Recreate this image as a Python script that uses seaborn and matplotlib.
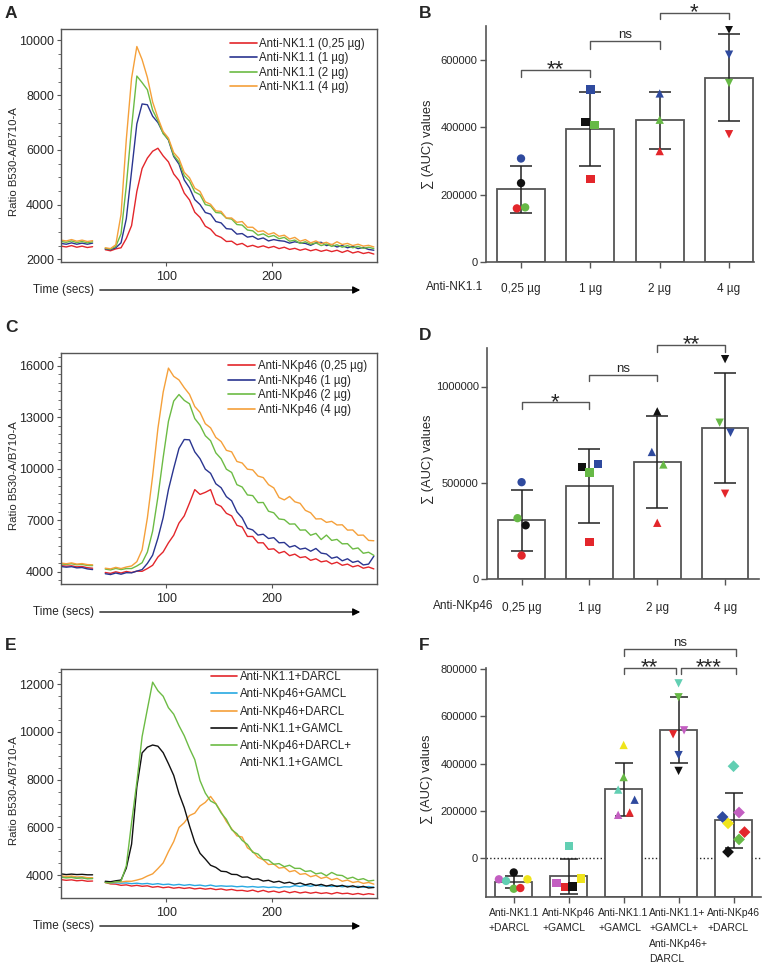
import matplotlib.pyplot as plt
import matplotlib.ticker as mticker
from matplotlib.lines import Line2D
from matplotlib.patches import FancyArrowPatch
import numpy as np
import seaborn as sns

sns.set_style('ticks')
plt.rcParams['font.family'] = ['Liberation Sans', 'DejaVu Sans']

# ---------------- calcium flux traces ----------------
t_base = [0, 5, 10, 15, 20, 25, 30]
t_main = list(range(42, 298, 5))

# A: anti-NK1.1 doses
a_labels = ['Anti-NK1.1 (0,25 µg)', 'Anti-NK1.1 (1 µg)', 'Anti-NK1.1 (2 µg)', 'Anti-NK1.1 (4 µg)']
a_base = [
    [2480, 2450, 2500, 2440, 2480, 2430, 2460],
    [2580, 2550, 2600, 2550, 2590, 2550, 2590],
    [2650, 2620, 2670, 2610, 2650, 2600, 2640],
    [2700, 2670, 2720, 2660, 2700, 2650, 2680],
]
a_red = [2350, 2310, 2380, 2420, 2760, 3230, 4480, 5320, 5700, 5950,
         6060, 5780, 5560, 5120, 4880, 4420, 4170, 3720, 3530, 3210,
         3100, 2880, 2800, 2650, 2660, 2530, 2580, 2460, 2510, 2440,
         2490, 2420, 2470, 2390, 2440, 2360, 2400, 2330, 2380, 2310,
         2360, 2290, 2340, 2280, 2330, 2250, 2320, 2230, 2280, 2210,
         2250, 2190]
a_blue = [2380, 2350, 2420, 2600, 3480, 5220, 6950, 7680, 7650, 7230,
          7000, 6620, 6360, 5760, 5480, 4900, 4610, 4180, 4000, 3710,
          3650, 3380, 3330, 3120, 3100, 2920, 2940, 2810, 2840, 2730,
          2780, 2670, 2720, 2680, 2660, 2590, 2640, 2600, 2580, 2510,
          2600, 2620, 2500, 2540, 2450, 2500, 2420, 2470, 2390, 2430,
          2360, 2330]
a_green = [2400, 2370, 2470, 2930, 4680, 6820, 8700, 8460, 8200, 7450,
           7070, 6590, 6380, 5800, 5560, 5060, 4860, 4460, 4360, 4000,
           3950, 3710, 3690, 3500, 3470, 3270, 3250, 3070, 3040, 2880,
           2930, 2820, 2870, 2750, 2800, 2660, 2700, 2580, 2640, 2550,
           2600, 2500, 2560, 2470, 2530, 2440, 2500, 2420, 2470, 2400,
           2440, 2390]
a_orange = [2420, 2390, 2530, 3640, 6380, 8620, 9780, 9300, 8650, 7750,
            7170, 6670, 6430, 5900, 5680, 5180, 4980, 4600, 4480, 4100,
            4010, 3770, 3750, 3510, 3510, 3350, 3380, 3170, 3170, 3010,
            3040, 2910, 2970, 2840, 2880, 2740, 2800, 2660, 2720, 2600,
            2670, 2570, 2620, 2530, 2640, 2540, 2580, 2500, 2550, 2480,
            2510, 2450]

# C: anti-NKp46 doses
c_labels = ['Anti-NKp46 (0,25 µg)', 'Anti-NKp46 (1 µg)', 'Anti-NKp46 (2 µg)', 'Anti-NKp46 (4 µg)']
c_base = [
    [4350, 4320, 4340, 4280, 4300, 4230, 4200],
    [4300, 4260, 4290, 4220, 4240, 4160, 4120],
    [4450, 4420, 4460, 4400, 4420, 4360, 4350],
    [4500, 4460, 4510, 4440, 4470, 4410, 4400],
]
c_red = [3950, 3900, 3990, 3920, 4010, 3950, 4030, 4020, 4180, 4370,
         4850, 5150, 5680, 6120, 6830, 7250, 8000, 8780, 8500, 8620,
         8780, 7950, 7800, 7400, 7250, 6700, 6600, 6050, 6050, 5680,
         5680, 5300, 5330, 5080, 5180, 4930, 5020, 4820, 4870, 4660,
         4750, 4570, 4630, 4450, 4550, 4370, 4440, 4280, 4360, 4200,
         4270, 4160]
c_blue = [3880, 3830, 3920, 3850, 3940, 3930, 4030, 4120, 4480, 4960,
          5950, 7150, 8780, 10020, 11180, 11700, 11680, 10980, 10580, 9970,
          9730, 9120, 8890, 8370, 8130, 7480, 7130, 6530, 6430, 6130,
          6180, 5930, 5980, 5680, 5700, 5430, 5520, 5310, 5370, 5190,
          5350, 5080, 5030, 4780, 4860, 4630, 4750, 4540, 4620, 4390,
          4440, 4900]
c_green = [4150, 4100, 4190, 4120, 4180, 4180, 4330, 4520, 5140, 6360,
           8350, 10650, 12760, 13940, 14320, 13980, 13780, 12920, 12530, 11920,
           11630, 10920, 10580, 9970, 9780, 9070, 8930, 8470, 8430, 8020,
           8030, 7520, 7430, 7070, 7030, 6770, 6780, 6420, 6430, 6120,
           6230, 5870, 6130, 5820, 5880, 5620, 5630, 5320, 5380, 5070,
           5130, 4950]
c_orange = [4200, 4160, 4250, 4180, 4270, 4330, 4580, 5270, 7130, 9570,
            12340, 14460, 15860, 15380, 15170, 14720, 14330, 13620, 13280, 12620,
            12380, 11820, 11580, 11070, 10980, 10420, 10330, 9970, 9930, 9570,
            9480, 9070, 8880, 8320, 8180, 8380, 8070, 7980, 7570, 7430,
            7070, 7080, 6870, 6930, 6720, 6730, 6420, 6430, 6120, 6130,
            5820, 5800]

# E: cross-linking combinations
e_labels = ['Anti-NK1.1+DARCL', 'Anti-NKp46+GAMCL', 'Anti-NKp46+DARCL',
            'Anti-NK1.1+GAMCL', 'Anti-NKp46+DARCL+\nAnti-NK1.1+GAMCL']
e_base = [
    [3820, 3790, 3810, 3770, 3790, 3750, 3760],
    [3950, 3920, 3940, 3900, 3910, 3870, 3880],
    [3980, 3950, 3970, 3930, 3940, 3900, 3900],
    [4060, 4030, 4050, 4030, 4040, 4020, 4020],
    [3920, 3890, 3910, 3870, 3890, 3850, 3860],
]
e_red = [3700, 3640, 3630, 3580, 3600, 3550, 3580, 3540, 3560, 3500,
         3530, 3480, 3510, 3460, 3490, 3450, 3480, 3430, 3460, 3420,
         3450, 3400, 3430, 3380, 3410, 3360, 3370, 3330, 3380, 3310,
         3370, 3300, 3340, 3280, 3340, 3270, 3320, 3260, 3300, 3250,
         3290, 3240, 3270, 3220, 3280, 3230, 3250, 3200, 3240, 3190,
         3230, 3200]
e_cyan = [3720, 3690, 3690, 3670, 3680, 3650, 3670, 3640, 3660, 3620,
          3650, 3610, 3630, 3590, 3620, 3580, 3610, 3570, 3590, 3550,
          3590, 3540, 3560, 3540, 3550, 3520, 3540, 3510, 3530, 3500,
          3520, 3490, 3510, 3480, 3520, 3510, 3570, 3530, 3580, 3540,
          3590, 3550, 3560, 3530, 3560, 3520, 3550, 3510, 3540, 3500,
          3530, 3500]
e_orange = [3700, 3690, 3730, 3720, 3750, 3750, 3800, 3860, 3970, 4060,
            4280, 4520, 4990, 5410, 6000, 6200, 6500, 6600, 6900, 7050,
            7300, 7000, 6650, 6250, 5950, 5650, 5600, 5150, 5000, 4750,
            4650, 4450, 4470, 4300, 4330, 4150, 4200, 4040, 4070, 3940,
            4000, 3870, 3930, 3810, 3870, 3750, 3800, 3700, 3740, 3660,
            3700, 3630]
e_black = [3750, 3730, 3770, 3800, 4300, 5300, 7700, 9120, 9360, 9450,
           9400, 9130, 8670, 8180, 7420, 6830, 6070, 5380, 4920, 4680,
           4420, 4330, 4170, 4150, 4040, 4030, 3920, 3930, 3830, 3850,
           3760, 3790, 3710, 3750, 3670, 3710, 3630, 3680, 3600, 3650,
           3570, 3620, 3550, 3600, 3530, 3580, 3510, 3560, 3490, 3540,
           3470, 3490]
e_green = [3700, 3680, 3730, 3750, 4400, 6200, 7900, 9800, 10950, 12080,
           11720, 11490, 11010, 10740, 10260, 9840, 9310, 8840, 7960, 7440,
           7110, 6990, 6610, 6340, 5910, 5740, 5460, 5290, 4960, 4890,
           4660, 4640, 4460, 4490, 4360, 4420, 4290, 4290, 4160, 4190,
           4060, 4100, 3980, 4120, 4010, 3990, 3860, 3920, 3810, 3860,
           3760, 3790]

# ---------------- AUC bar charts ----------------
b_names = ['0,25 µg', '1 µg', '2 µg', '4 µg']
b_mean = [216000, 395000, 420000, 547000]
b_sd = [70000, 109000, 84000, 130000]
pt_colors = ['blue', 'black', 'green', 'red']
b_points = [[307000, 234000, 162000, 159000],
            [512000, 415000, 406000, 246000],
            [500000, None, 422000, 329000],
            [615000, 689000, 531000, 379000]]

d_names = ['0,25 µg', '1 µg', '2 µg', '4 µg']
d_mean = [305000, 483000, 608000, 786000]
d_sd = [157000, 194000, 240000, 285000]
d_points = [[503000, 279000, 316000, 122000],
            [597000, 582000, 554000, 193000],
            [660000, 871000, 595000, 292000],
            [760000, 1142000, 812000, 443000]]

f_names = ['Anti-NK1.1\n+DARCL', 'Anti-NKp46\n+GAMCL', 'Anti-NK1.1\n+GAMCL',
           'Anti-NK1.1+\n+GAMCL+\nAnti-NKp46+\nDARCL', 'Anti-NKp46\n+DARCL']
f_mean = [-100000, -77000, 291000, 544000, 160000]
f_sd = [25000, 74000, 112000, 140000, 116000]
f_colors = ['magenta', 'teal', 'green', 'yellow', 'blue', 'red', 'black']
f_points = [[-90000, -97000, -130000, -90000, None, -127000, -61000],
            [-106000, 50000, None, -86000, None, -124000, -121000],
            [183000, 290000, 343000, 479000, 247000, 193000, None],
            [541000, 740000, 681000, None, 436000, 524000, 369000],
            [193000, 389000, 79000, 147000, 174000, 110000, 26000]]

# ---------------- styling ----------------
PAL = {'red': '#e3262b', 'blue': '#2f4a9e', 'green': '#67b946', 'black': '#111111',
       'magenta': '#c35ec1', 'teal': '#62cfb3', 'yellow': '#efe41c'}
LINE = {'red': '#e3262b', 'navy': '#2a3590', 'green': '#6cbb44', 'orange': '#f5a03a',
        'cyan': '#28a9e2', 'black': '#111111'}
FRAME = '#555555'

W, H = 768, 967
fig = plt.figure(figsize=(W / 100, H / 100), dpi=100)


def box(l, t, r, b):
    return [l / W, 1 - b / H, (r - l) / W, (b - t) / H]


def fx(x):
    return x / W


def fy(y):
    return 1 - y / H


def trace_panel(rect, bases, mains, colors, labels, ylim, yticks, leg_at, leg_sp, ylab_y, arrow_y):
    ax = fig.add_axes(box(*rect))
    for b, m, c in zip(bases, mains, colors):
        sns.lineplot(x=t_base, y=b, color=LINE[c], lw=1, estimator=None, ax=ax)
        sns.lineplot(x=t_main, y=m, color=LINE[c], lw=1, estimator=None, ax=ax)
    ax.set_xlim(0, 300)
    ax.set_ylim(*ylim)
    ax.set_xticks([100, 200])
    ax.set_yticks(yticks)
    ax.yaxis.set_minor_locator(mticker.MultipleLocator(500))
    ax.tick_params(labelsize=9, length=3, width=0.8, color=FRAME, pad=2)
    ax.tick_params(axis='x', pad=3.5)
    ax.tick_params(axis='y', which='minor', length=2, width=0.6, color=FRAME)
    for s in ax.spines.values():
        s.set_color(FRAME)
        s.set_linewidth(1)
    ax.set_xlabel('')
    ax.set_ylabel('Ratio B530-A/B710-A', fontsize=8.2)
    ax.yaxis.set_label_coords(-0.133, ylab_y)
    # legend: a wrapped label keeps its line handle on the first row
    handles, texts = [], []
    for c, lab in zip(colors, labels):
        for k, part in enumerate(lab.split('\n')):
            handles.append(Line2D([], [], color=LINE[c] if k == 0 else 'none', lw=1.2))
            texts.append(part)
    ax.legend(handles, texts, loc='upper left', bbox_to_anchor=leg_at, frameon=False,
              fontsize=8.3, handlelength=2.3, handletextpad=0.25, labelspacing=leg_sp,
              borderaxespad=0, borderpad=0)
    fig.text(fx(33), fy(arrow_y), 'Time (secs)', fontsize=8.5, va='center', ha='left')
    fig.add_artist(FancyArrowPatch((fx(97), fy(arrow_y)), (fx(363), fy(arrow_y)),
                                   transform=fig.transFigure, arrowstyle='-|>',
                                   mutation_scale=11, lw=0.9, color='black'))
    return ax


def bar_panel(rect, names, means, sds, points, colors, markers, offsets, ylim, yticks,
              xlim, width, cap, pad, ylab_y, lab_size=8.5):
    ax = fig.add_axes(box(*rect))
    floor = ylim[0]
    sns.barplot(x=names, y=[m - floor for m in means], bottom=floor, color='white',
                edgecolor=FRAME, linewidth=1.3, width=width, errorbar=None,
                ax=ax, zorder=1)
    ax.errorbar(np.arange(len(means)), means, yerr=sds, fmt='none', ecolor='#222222',
                elinewidth=1.1, capsize=cap, capthick=1.1, zorder=2)
    for i, (vals, offs) in enumerate(zip(points, offsets)):
        keep = [k for k, v in enumerate(vals) if v is not None]
        sns.scatterplot(x=[i + offs[k] for k in keep], y=[vals[k] for k in keep],
                        hue=[colors[k] for k in keep], palette=PAL, marker=markers[i],
                        s=36, linewidth=0, legend=False, ax=ax, zorder=3)
    ax.set_xlim(*xlim)
    ax.set_ylim(*ylim)
    ax.set_yticks(yticks)
    ax.yaxis.set_major_formatter(mticker.FuncFormatter(lambda v, p: f'{v:.0f}'))
    ax.set_xticks(range(len(names)), names)
    ax.tick_params(axis='y', labelsize=8, length=4, width=1, color=FRAME, pad=2)
    ax.tick_params(axis='x', labelsize=lab_size, length=4, width=1, color=FRAME, pad=pad)
    sns.despine(ax=ax)
    for s in ('left', 'bottom'):
        ax.spines[s].set_color(FRAME)
        ax.spines[s].set_linewidth(1.2)
    ax.set_xlabel('')
    ax.set_ylabel('∑ (AUC) values', fontsize=9.3)
    ax.yaxis.set_label_coords(-0.194, ylab_y)
    return ax


def bracket(ax, x1, x2, y, leg, text, size):
    ax.plot([x1, x1, x2, x2], [y - leg, y, y, y - leg], color=FRAME, lw=1, clip_on=False)
    off = 4.3 if text == 'ns' else 0
    ax.annotate(text, xy=((x1 + x2) / 2, y), xytext=(0, off), textcoords='offset points',
                ha='center', va='center', fontsize=size, annotation_clip=False)


# A
trace_panel((61, 29, 377, 262), a_base, [a_red, a_blue, a_green, a_orange],
            ['red', 'navy', 'green', 'orange'], a_labels, (1900, 10420),
            [2000, 4000, 6000, 8000, 10000], (0.535, 0.962), 0.21, 0.43, 290)
# C
trace_panel((61, 353, 377, 584), c_base, [c_red, c_blue, c_green, c_orange],
            ['red', 'navy', 'green', 'orange'], c_labels, (3280, 16740),
            [4000, 7000, 10000, 13000, 16000], (0.53, 0.968), 0.21, 0.47, 612)
# E
trace_panel((61, 669, 377, 898), e_base, [e_red, e_cyan, e_orange, e_black, e_green],
            ['red', 'cyan', 'orange', 'black', 'green'], e_labels, (3050, 12630),
            [4000, 6000, 8000, 10000, 12000], (0.474, 0.99), 0.45, 0.47, 926)

# B
ax_b = bar_panel((486, 26, 754, 262), b_names, b_mean, b_sd, b_points, pt_colors,
                 ['o', 's', '^', 'v'],
                 [[0, 0, 0.06, -0.06], [0, -0.07, 0.06, 0], [0, 0, 0, 0], [0, 0, 0, 0]],
                 (0, 700000), [0, 200000, 400000, 600000], (-0.505, 3.36), 0.69, 8, 11, 0.5)
bracket(ax_b, 0, 1, 570000, 22000, '**', 16)
bracket(ax_b, 1, 2, 655000, 22000, 'ns', 9.5)
bracket(ax_b, 2, 3, 740000, 20000, '*', 16)
fig.text(fx(455), fy(287), 'Anti-NK1.1', fontsize=8.5, ha='center', va='center')

# D
ax_d = bar_panel((487, 348, 759, 579), d_names, d_mean, d_sd, d_points, pt_colors,
                 ['o', 's', '^', 'v'],
                 [[0, 0.06, -0.06, 0], [0.13, -0.11, 0, 0], [-0.08, 0, 0.09, 0], [0.08, 0, -0.08, 0]],
                 (0, 1200000), [0, 500000, 1000000], (-0.51, 3.5), 0.69, 8, 12.5, 0.52)
bracket(ax_d, 0, 1, 917000, 35000, '*', 16)
bracket(ax_d, 1, 2, 1059000, 30000, 'ns', 9.5)
bracket(ax_d, 2, 3, 1215000, 35000, '**', 16)
fig.text(fx(463), fy(606), 'Anti-NKp46', fontsize=8.5, ha='center', va='center')

# F
ax_f = bar_panel((486, 668, 761, 897), f_names, f_mean, f_sd, f_points, f_colors,
                 ['o', 's', '^', 'v', 'D'],
                 [[-0.27, -0.14, 0, 0.25, 0, 0.12, 0],
                  [-0.22, 0, 0, 0.22, 0, -0.07, 0.07],
                  [-0.1, -0.1, 0, 0, 0.2, 0.11, 0],
                  [0.1, 0, 0, 0, 0, -0.1, 0],
                  [0.1, 0, 0.1, -0.1, -0.2, 0.2, -0.1]],
                 (-165000, 805000), [0, 200000, 400000, 600000, 800000], (-0.505, 4.5),
                 0.67, 6.5, 4, 0.515, lab_size=7.5)
ax_f.axhline(0, ls=':', color='#222222', lw=1, zorder=0.5)
for lbl in ax_f.get_xticklabels():
    lbl.set_multialignment('left')
    lbl.set_linespacing(1.65)
bracket(ax_f, 2.0, 4.05, 886000, 29000, 'ns', 9.5)
bracket(ax_f, 2.0, 2.95, 807000, 28000, '**', 16)
bracket(ax_f, 3.05, 4.05, 807000, 28000, '***', 16)

# panel letters
for letter, x, y in [('A', 5, 13), ('B', 419, 13), ('C', 5, 328),
                     ('D', 419, 335), ('E', 5, 645), ('F', 419, 645)]:
    fig.text(fx(x), fy(y), letter, fontsize=12.5, fontweight='bold', va='center', ha='left')

fig.savefig('out.png', dpi=100)
